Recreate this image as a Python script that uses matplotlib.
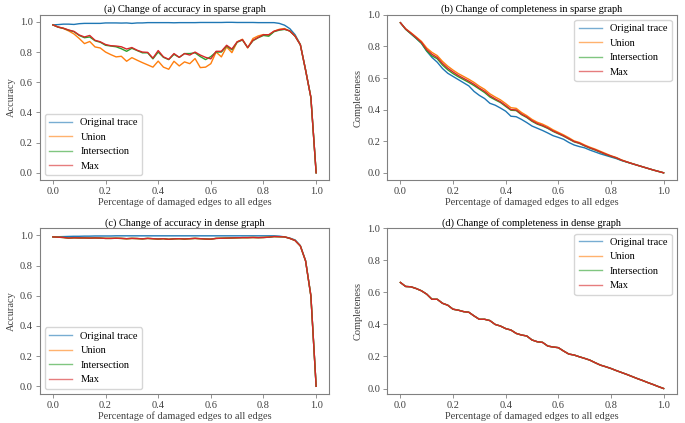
import numpy as np
import matplotlib
matplotlib.use('Agg')
import matplotlib.pyplot as plt

# Dados (51 pontos de 0 a 1)
x = np.linspace(0, 1, 51)
labels = ['Original trace', 'Union', 'Intersection', 'Max']

# (a) accuracy, sparse
orig_a = [0.980, 0.982, 0.985, 0.985, 0.983, 0.988, 0.990, 0.990, 0.990, 0.990,
          0.993, 0.993, 0.993, 0.992, 0.993, 0.990, 0.993, 0.993, 0.995, 0.995,
          0.995, 0.995, 0.995, 0.994, 0.995, 0.995, 0.995, 0.995, 0.996, 0.996,
          0.996, 0.996, 0.996, 0.997, 0.997, 0.996, 0.996, 0.996, 0.996, 0.995,
          0.995, 0.995, 0.995, 0.990, 0.978, 0.955, 0.915, 0.850, 0.680, 0.500,
          0.000]
union_a = [0.980, 0.965, 0.956, 0.940, 0.920, 0.890, 0.856, 0.870, 0.834, 0.827,
           0.800, 0.783, 0.768, 0.772, 0.739, 0.763, 0.746, 0.730, 0.715, 0.700,
           0.740, 0.700, 0.686, 0.739, 0.708, 0.735, 0.723, 0.757, 0.697, 0.700,
           0.723, 0.800, 0.768, 0.834, 0.796, 0.867, 0.885, 0.827, 0.890, 0.907,
           0.916, 0.911, 0.938, 0.951, 0.956, 0.938, 0.907, 0.850, 0.680, 0.500,
           0.000]
inter_a = [0.980, 0.965, 0.957, 0.945, 0.935, 0.910, 0.895, 0.900, 0.875, 0.865,
           0.845, 0.840, 0.835, 0.822, 0.805, 0.825, 0.810, 0.795, 0.795, 0.755,
           0.800, 0.765, 0.750, 0.785, 0.765, 0.790, 0.790, 0.795, 0.770, 0.750,
           0.770, 0.800, 0.800, 0.840, 0.815, 0.865, 0.880, 0.830, 0.875, 0.895,
           0.910, 0.905, 0.935, 0.945, 0.950, 0.940, 0.905, 0.848, 0.680, 0.500,
           0.000]
max_a = [0.980, 0.966, 0.958, 0.946, 0.937, 0.913, 0.900, 0.910, 0.878, 0.868,
         0.850, 0.842, 0.840, 0.835, 0.820, 0.830, 0.812, 0.800, 0.798, 0.760,
         0.810, 0.768, 0.752, 0.790, 0.765, 0.790, 0.780, 0.800, 0.780, 0.765,
         0.755, 0.805, 0.805, 0.845, 0.820, 0.868, 0.882, 0.830, 0.878, 0.897,
         0.915, 0.915, 0.938, 0.948, 0.952, 0.940, 0.905, 0.848, 0.680, 0.500,
         0.000]

# (b) completeness, sparse
orig_b = [0.950, 0.910, 0.880, 0.850, 0.820, 0.770, 0.730, 0.700, 0.660, 0.630,
          0.610, 0.590, 0.570, 0.550, 0.515, 0.490, 0.470, 0.440, 0.428, 0.410,
          0.390, 0.358, 0.355, 0.338, 0.318, 0.296, 0.282, 0.268, 0.252, 0.235,
          0.224, 0.212, 0.192, 0.176, 0.166, 0.158, 0.144, 0.132, 0.120, 0.110,
          0.100, 0.090, 0.078, 0.068, 0.058, 0.048, 0.038, 0.028, 0.018, 0.009,
          0.000]
union_b = [0.950, 0.912, 0.887, 0.860, 0.832, 0.790, 0.762, 0.742, 0.705, 0.675,
           0.650, 0.628, 0.610, 0.592, 0.572, 0.548, 0.528, 0.500, 0.480, 0.462,
           0.438, 0.412, 0.408, 0.382, 0.362, 0.338, 0.320, 0.308, 0.292, 0.272,
           0.256, 0.240, 0.222, 0.202, 0.192, 0.176, 0.162, 0.150, 0.136, 0.122,
           0.108, 0.097, 0.082, 0.070, 0.059, 0.048, 0.038, 0.028, 0.018, 0.009,
           0.000]
inter_b = [0.950, 0.908, 0.880, 0.852, 0.820, 0.772, 0.740, 0.722, 0.682, 0.652,
           0.628, 0.608, 0.590, 0.572, 0.552, 0.530, 0.508, 0.480, 0.462, 0.445,
           0.420, 0.396, 0.394, 0.368, 0.350, 0.326, 0.308, 0.296, 0.281, 0.262,
           0.247, 0.232, 0.214, 0.196, 0.186, 0.170, 0.156, 0.144, 0.130, 0.116,
           0.104, 0.094, 0.079, 0.068, 0.058, 0.048, 0.038, 0.028, 0.018, 0.009,
           0.000]
max_b = [0.950, 0.910, 0.884, 0.856, 0.826, 0.780, 0.750, 0.730, 0.692, 0.662,
         0.638, 0.616, 0.598, 0.580, 0.560, 0.536, 0.516, 0.488, 0.468, 0.450,
         0.426, 0.400, 0.398, 0.372, 0.354, 0.330, 0.312, 0.300, 0.284, 0.265,
         0.250, 0.234, 0.216, 0.198, 0.188, 0.172, 0.158, 0.146, 0.132, 0.118,
         0.106, 0.095, 0.080, 0.069, 0.058, 0.048, 0.038, 0.028, 0.018, 0.009,
         0.000]

# (c) accuracy, dense
orig_c = [0.990, 0.991, 0.992, 0.993, 0.994, 0.994, 0.995, 0.995, 0.996, 0.996,
          0.996, 0.996, 0.997, 0.997, 0.997, 0.997, 0.997, 0.997, 0.997, 0.997,
          0.997, 0.997, 0.997, 0.997, 0.997, 0.997, 0.997, 0.997, 0.997, 0.997,
          0.997, 0.997, 0.997, 0.997, 0.997, 0.997, 0.997, 0.997, 0.997, 0.997,
          0.997, 0.997, 0.997, 0.995, 0.990, 0.982, 0.970, 0.932, 0.832, 0.600,
          0.000]
max_c = [0.990, 0.988, 0.986, 0.982, 0.984, 0.983, 0.983, 0.982, 0.983, 0.982,
         0.980, 0.980, 0.981, 0.980, 0.978, 0.980, 0.979, 0.977, 0.980, 0.978,
         0.976, 0.978, 0.974, 0.977, 0.978, 0.976, 0.978, 0.980, 0.978, 0.976,
         0.975, 0.980, 0.981, 0.982, 0.983, 0.984, 0.985, 0.985, 0.986, 0.985,
         0.986, 0.988, 0.992, 0.991, 0.990, 0.980, 0.966, 0.930, 0.830, 0.600,
         0.000]
union_c = list(max_c)   # as três curvas coincidem
inter_c = list(max_c)

# (d) completeness, dense (as quatro curvas coincidem)
orig_d = [0.662, 0.637, 0.635, 0.624, 0.610, 0.589, 0.557, 0.557, 0.532, 0.520,
          0.495, 0.489, 0.480, 0.476, 0.453, 0.432, 0.432, 0.424, 0.400, 0.390,
          0.374, 0.365, 0.344, 0.334, 0.328, 0.303, 0.292, 0.288, 0.265, 0.259,
          0.255, 0.234, 0.215, 0.209, 0.198, 0.188, 0.177, 0.161, 0.146, 0.136,
          0.125, 0.112, 0.100, 0.088, 0.075, 0.062, 0.050, 0.037, 0.025, 0.012,
          0.000]
union_d = list(orig_d)
inter_d = list(orig_d)
max_d = list(orig_d)

plt.rcParams['font.family'] = ['Liberation Serif', 'DejaVu Serif']
plt.rcParams['font.size'] = 7.5
plt.rcParams['axes.edgecolor'] = '0.5'
plt.rcParams['xtick.color'] = '0.5'
plt.rcParams['ytick.color'] = '0.5'
plt.rcParams['xtick.labelcolor'] = '0.25'
plt.rcParams['ytick.labelcolor'] = '0.25'
plt.rcParams['axes.labelcolor'] = '0.25'

fig, axs = plt.subplots(2, 2, figsize=(6.85, 4.23), dpi=100)
fig.subplots_adjust(left=0.058, right=0.988, top=0.965, bottom=0.069,
                    wspace=0.2, hspace=0.29)

paineis = [
    (axs[0, 0], [orig_a, union_a, inter_a, max_a], '(a) Change of accuracy in sparse graph', 'Accuracy', 'lower left', False),
    (axs[0, 1], [orig_b, union_b, inter_b, max_b], '(b) Change of completeness in sparse graph', 'Completeness', 'upper right', True),
    (axs[1, 0], [orig_c, union_c, inter_c, max_c], '(c) Change of accuracy in dense graph', 'Accuracy', 'lower left', False),
    (axs[1, 1], [orig_d, union_d, inter_d, max_d], '(d) Change of completeness in dense graph', 'Completeness', 'upper right', True),
]

for ax, series, titulo, ylab, loc, topo in paineis:
    for s, lab in zip(series, labels):
        ax.plot(x, s, label=lab, lw=1.0)
    if topo:
        ax.set_ylim(top=1.0)
    ax.set_title(titulo, fontsize=7.5, pad=2)
    ax.set_xlabel('Percentage of damaged edges to all edges', labelpad=1)
    ax.set_ylabel(ylab, labelpad=3)
    ax.tick_params(length=3, width=0.6, pad=2)
    leg = ax.legend(loc=loc, fontsize=7.5, handlelength=2.2)
    for h in leg.legend_handles:
        h.set_alpha(0.6)

plt.savefig('out.png', dpi=100)
